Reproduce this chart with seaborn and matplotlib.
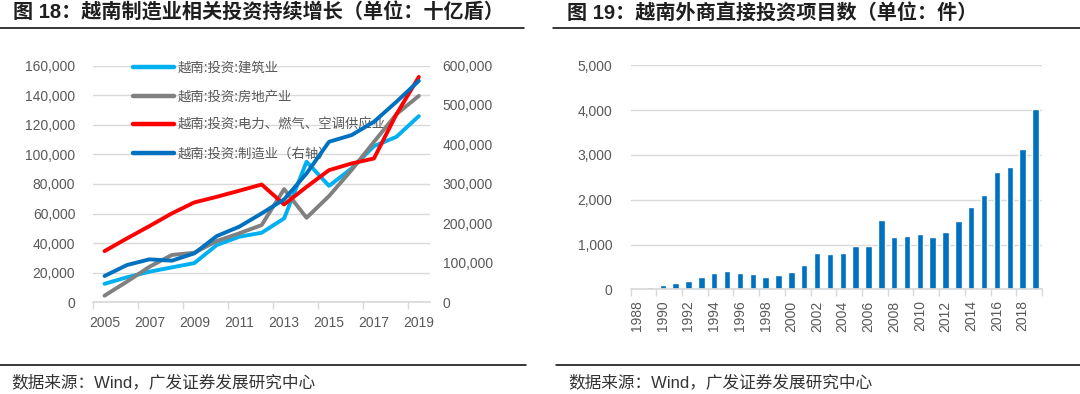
"""
越南投资图：左边四条投资线（十亿盾），右边外商直接投资项目数柱状图
"""

import matplotlib
matplotlib.use("Agg")
import matplotlib.pyplot as plt
from matplotlib.lines import Line2D
from matplotlib.ticker import FixedLocator, FuncFormatter
import seaborn as sns

# ---- 数据 ----
years_inv = list(range(2005, 2020))
construction = [12500, 16900, 20700, 23600, 26500, 38700, 44300, 47000,
                56700, 95000, 78700, 90400, 105500, 111800, 125800]
real_estate = [4500, 14000, 24000, 32000, 33500, 41400, 46600, 52200,
               76500, 57100, 71800, 89300, 108400, 127100, 139500]
power = [34600, 43200, 51500, 60100, 67500, 71300, 75400, 79600,
         66100, 78000, 89300, 93800, 97200, 127000, 152300]
manufacturing = [66700, 94500, 108900, 105500, 124100, 167900, 191600, 225300,
                 260800, 326600, 406800, 423600, 457400, 508000, 561200]

inv_labels = ["越南:投资:建筑业", "越南:投资:房地产业",
              "越南:投资:电力、燃气、空调供应业", "越南:投资:制造业（右轴）"]

years_fdi = [str(y) for y in range(1988, 2020)]
fdi_projects = [30, 60, 104, 149, 194, 276, 366, 418, 366, 351, 284, 321,
                388, 548, 802, 784, 806, 963, 978, 1537, 1157, 1201, 1231,
                1172, 1276, 1522, 1843, 2112, 2612, 2731, 3142, 4030]

title_left = "图 18：越南制造业相关投资持续增长（单位：十亿盾）"
title_right = "图 19：越南外商直接投资项目数（单位：件）"
source_text = "数据来源：Wind，广发证券发展研究中心"

# ---- 样式 ----
C_LIGHT = "#00B0F0"
C_GRAY = "#808080"
C_RED = "#FF0000"
C_BLUE = "#0070C0"
GRID = "#D9D9D9"
TICK_TXT = "#595959"
CJK = ["Liberation Sans", "Noto Sans CJK SC"]

sns.set_theme(style="white")
plt.rcParams["font.family"] = ["Liberation Sans", "Noto Sans CJK SC"]

fig = plt.figure(figsize=(10.8, 3.94), dpi=100)

# ---- 左图：投资折线 ----
ax1 = fig.add_axes([0.0864, 0.2327, 0.3118, 0.6010])
ax2 = ax1.twinx()

lw = 2.8
sns.lineplot(x=years_inv, y=construction, ax=ax1, color=C_LIGHT, lw=lw,
             solid_capstyle="round", solid_joinstyle="round", zorder=3)
sns.lineplot(x=years_inv, y=real_estate, ax=ax1, color=C_GRAY, lw=lw,
             solid_capstyle="round", solid_joinstyle="round", zorder=3)
sns.lineplot(x=years_inv, y=power, ax=ax1, color=C_RED, lw=lw,
             solid_capstyle="round", solid_joinstyle="round", zorder=3)
sns.lineplot(x=years_inv, y=manufacturing, ax=ax2, color=C_BLUE, lw=lw,
             solid_capstyle="round", solid_joinstyle="round", zorder=3)

ax1.set_xlim(years_inv[0] - 0.5, years_inv[-1] + 0.5)
ax1.set_ylim(0, 160000)
ax2.set_ylim(0, 600000)
ax1.set_yticks(range(0, 160001, 20000))
ax2.set_yticks(range(0, 600001, 100000))
fmt = FuncFormatter(lambda v, p: f"{int(v):,}")
ax1.yaxis.set_major_formatter(fmt)
ax2.yaxis.set_major_formatter(fmt)

# 刻度线在类别边界，标签在中间
ax1.xaxis.set_major_locator(FixedLocator([y - 0.5 for y in years_inv[::2]]))
ax1.xaxis.set_minor_locator(FixedLocator(years_inv[::2]))
ax1.xaxis.set_major_formatter(FuncFormatter(lambda v, p: ""))
ax1.xaxis.set_minor_formatter(FuncFormatter(lambda v, p: f"{int(round(v))}"))
ax1.tick_params(axis="x", which="major", length=5, width=1, color=GRID,
                direction="out", bottom=True)
ax1.tick_params(axis="x", which="minor", length=0, pad=10, labelsize=10,
                labelcolor=TICK_TXT, bottom=True)
ax1.tick_params(axis="y", length=0, pad=13, labelsize=10, labelcolor=TICK_TXT)
ax2.tick_params(axis="y", length=0, pad=9, labelsize=10, labelcolor=TICK_TXT)

ax1.grid(axis="y", color=GRID, lw=1)
ax1.set_axisbelow(True)
for a in (ax1, ax2):
    for s in ("top", "left", "right"):
        a.spines[s].set_visible(False)
    a.spines["bottom"].set_color(GRID)
    a.set_xlabel("")
    a.set_ylabel("")
ax2.spines["bottom"].set_visible(False)

handles = [Line2D([], [], color=c, lw=3.2, solid_capstyle="round")
           for c in (C_LIGHT, C_GRAY, C_RED, C_BLUE)]
leg = ax1.legend(handles, inv_labels, loc="upper left",
                 bbox_to_anchor=(0.118, 1.02), frameon=False,
                 borderpad=0, borderaxespad=0, handlelength=3.1,
                 handletextpad=0.25, labelspacing=1.1,
                 prop={"family": ["Noto Sans CJK SC"], "size": 9.6})
for t in leg.get_texts():
    t.set_color(TICK_TXT)
leg.set_zorder(1)

# ---- 右图：外商直接投资项目数 ----
ax3 = fig.add_axes([0.5839, 0.2657, 0.3809, 0.5685])
sns.barplot(x=years_fdi, y=fdi_projects, ax=ax3, color=C_BLUE,
            saturation=1, width=0.5)
ax3.set_xlim(-0.5, len(years_fdi) - 0.5)
ax3.set_ylim(0, 5000)
ax3.set_yticks(range(0, 5001, 1000))
ax3.yaxis.set_major_formatter(fmt)
pos = list(range(len(years_fdi)))
ax3.xaxis.set_major_locator(FixedLocator([p - 0.5 for p in pos[::2]] + [pos[-1] + 0.5]))
ax3.xaxis.set_minor_locator(FixedLocator(pos[::2]))
ax3.xaxis.set_major_formatter(FuncFormatter(lambda v, p: ""))
ax3.xaxis.set_minor_formatter(FuncFormatter(lambda v, p: years_fdi[int(round(v))]))
ax3.tick_params(axis="x", which="major", length=5, width=1, color=GRID,
                direction="out", bottom=True)
ax3.tick_params(axis="x", which="minor", length=0, pad=8, labelsize=10,
                labelcolor=TICK_TXT, labelrotation=90, bottom=True)
ax3.tick_params(axis="y", length=0, pad=13, labelsize=10, labelcolor=TICK_TXT)
ax3.grid(axis="y", color=GRID, lw=1)
ax3.set_axisbelow(True)
for s in ("top", "left", "right"):
    ax3.spines[s].set_visible(False)
ax3.spines["bottom"].set_color(GRID)
ax3.set_xlabel("")
ax3.set_ylabel("")

# ---- 标题、分隔线、来源 ----
fig.text(0.012, 0.967, title_left, family=CJK, fontsize=14.5, fontweight="bold",
         color="#1F1F1F", va="center", ha="left")
fig.text(0.525, 0.967, title_right, family=CJK, fontsize=14.5, fontweight="bold",
         color="#1F1F1F", va="center", ha="left")

for x0, x1 in ((0.0, 0.485), (0.5118, 1.0)):
    fig.add_artist(Line2D([x0, x1], [0.928, 0.928], color="black", lw=1.1))
for x0, x1 in ((0.0, 0.487), (0.515, 1.0)):
    fig.add_artist(Line2D([x0, x1], [0.0736, 0.0736], color="black", lw=1.1))

fig.text(0.0108, 0.0287, source_text, family=CJK, fontsize=12,
         color="#333333", va="center", ha="left")
fig.text(0.526, 0.0287, source_text, family=CJK, fontsize=12,
         color="#333333", va="center", ha="left")

fig.savefig("out.png", dpi=100)
